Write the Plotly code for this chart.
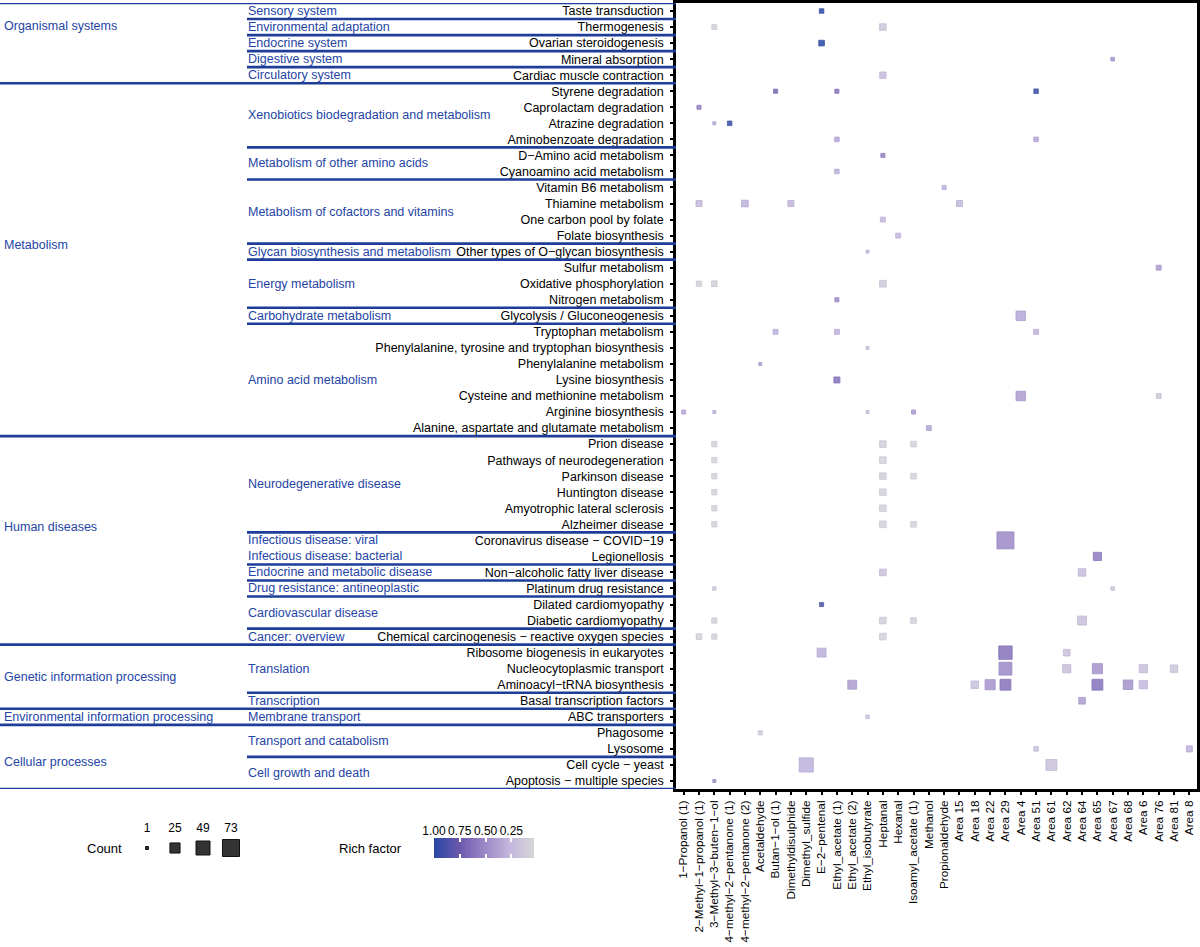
import numpy as np
import plotly.graph_objects as go

# ---------------- data ----------------
compounds = ["1−Propanol (1)", "2−Methyl−1−propanol (1)", "3−Methyl−3−buten−1−ol",
             "4−methyl−2−pentanone (1)", "4−methyl−2−pentanone (2)", "Acetaldehyde",
             "Butan−1−ol (1)", "Dimethyldisulphide", "Dimethyl_sulfide", "E−2−pentenal",
             "Ethyl_acetate (1)", "Ethyl_acetate (2)", "Ethyl_isobutyrate", "Heptanal",
             "Hexanal", "Isoamyl_acetate (1)", "Methanol", "Propionaldehyde",
             "Area 15", "Area 18", "Area 22", "Area 29", "Area 4", "Area 51", "Area 61",
             "Area 62", "Area 64", "Area 65", "Area 67", "Area 68", "Area 6", "Area 76",
             "Area 81", "Area 8"]

subclass_names = ["Sensory system", "Environmental adaptation", "Endocrine system",
                  "Digestive system", "Circulatory system",
                  "Xenobiotics biodegradation and metabolism", "Metabolism of other amino acids",
                  "Metabolism of cofactors and vitamins", "Glycan biosynthesis and metabolism",
                  "Energy metabolism", "Carbohydrate metabolism", "Amino acid metabolism",
                  "Neurodegenerative disease", "Infectious disease: viral",
                  "Infectious disease: bacterial", "Endocrine and metabolic disease",
                  "Drug resistance: antineoplastic", "Cardiovascular disease", "Cancer: overview",
                  "Translation", "Transcription", "Membrane transport",
                  "Transport and catabolism", "Cell growth and death"]

subclass_class = (["Organismal systems"] * 5 + ["Metabolism"] * 7 + ["Human diseases"] * 7 +
                  ["Genetic information processing"] * 2 +
                  ["Environmental information processing"] + ["Cellular processes"] * 2)

subclass_pathways = [
    ["Taste transduction"],
    ["Thermogenesis"],
    ["Ovarian steroidogenesis"],
    ["Mineral absorption"],
    ["Cardiac muscle contraction"],
    ["Styrene degradation", "Caprolactam degradation", "Atrazine degradation",
     "Aminobenzoate degradation"],
    ["D−Amino acid metabolism", "Cyanoamino acid metabolism"],
    ["Vitamin B6 metabolism", "Thiamine metabolism", "One carbon pool by folate",
     "Folate biosynthesis"],
    ["Other types of O−glycan biosynthesis"],
    ["Sulfur metabolism", "Oxidative phosphorylation", "Nitrogen metabolism"],
    ["Glycolysis / Gluconeogenesis"],
    ["Tryptophan metabolism", "Phenylalanine, tyrosine and tryptophan biosynthesis",
     "Phenylalanine metabolism", "Lysine biosynthesis", "Cysteine and methionine metabolism",
     "Arginine biosynthesis", "Alanine, aspartate and glutamate metabolism"],
    ["Prion disease", "Pathways of neurodegeneration", "Parkinson disease",
     "Huntington disease", "Amyotrophic lateral sclerosis", "Alzheimer disease"],
    ["Coronavirus disease − COVID−19"],
    ["Legionellosis"],
    ["Non−alcoholic fatty liver disease"],
    ["Platinum drug resistance"],
    ["Dilated cardiomyopathy", "Diabetic cardiomyopathy"],
    ["Chemical carcinogenesis − reactive oxygen species"],
    ["Ribosome biogenesis in eukaryotes", "Nucleocytoplasmic transport",
     "Aminoacyl−tRNA biosynthesis"],
    ["Basal transcription factors"],
    ["ABC transporters"],
    ["Phagosome", "Lysosome"],
    ["Cell cycle − yeast", "Apoptosis − multiple species"],
]

C = compounds
# enrichment points: pathway, compound, gene count, rich factor
pt_pathway = (["Taste transduction"] + ["Thermogenesis"] * 2 + ["Ovarian steroidogenesis"] +
              ["Mineral absorption"] + ["Cardiac muscle contraction"] +
              ["Styrene degradation"] * 3 + ["Caprolactam degradation"] +
              ["Atrazine degradation"] * 2 + ["Aminobenzoate degradation"] * 2 +
              ["D−Amino acid metabolism"] + ["Cyanoamino acid metabolism"] +
              ["Vitamin B6 metabolism"] + ["Thiamine metabolism"] * 4 +
              ["One carbon pool by folate"] + ["Folate biosynthesis"] +
              ["Other types of O−glycan biosynthesis"] + ["Sulfur metabolism"] +
              ["Oxidative phosphorylation"] * 3 + ["Nitrogen metabolism"] +
              ["Glycolysis / Gluconeogenesis"] + ["Tryptophan metabolism"] * 3 +
              ["Phenylalanine, tyrosine and tryptophan biosynthesis"] +
              ["Phenylalanine metabolism"] + ["Lysine biosynthesis"] +
              ["Cysteine and methionine metabolism"] * 2 + ["Arginine biosynthesis"] * 4 +
              ["Alanine, aspartate and glutamate metabolism"] +
              ["Prion disease"] * 3 + ["Pathways of neurodegeneration"] * 2 +
              ["Parkinson disease"] * 3 + ["Huntington disease"] * 2 +
              ["Amyotrophic lateral sclerosis"] * 2 + ["Alzheimer disease"] * 3 +
              ["Coronavirus disease − COVID−19"] + ["Legionellosis"] +
              ["Non−alcoholic fatty liver disease"] * 2 + ["Platinum drug resistance"] * 2 +
              ["Dilated cardiomyopathy"] + ["Diabetic cardiomyopathy"] * 4 +
              ["Chemical carcinogenesis − reactive oxygen species"] * 3 +
              ["Ribosome biogenesis in eukaryotes"] * 3 + ["Nucleocytoplasmic transport"] * 5 +
              ["Aminoacyl−tRNA biosynthesis"] * 7 + ["Basal transcription factors"] +
              ["ABC transporters"] + ["Phagosome"] + ["Lysosome"] * 2 +
              ["Cell cycle − yeast"] * 2 + ["Apoptosis − multiple species"])

pt_compound = ([C[9]] + [C[2], C[13]] + [C[9]] + [C[28]] + [C[13]] +
               [C[6], C[10], C[23]] + [C[1]] + [C[2], C[3]] + [C[10], C[23]] +
               [C[13]] + [C[10]] + [C[17]] + [C[1], C[4], C[7], C[18]] +
               [C[13]] + [C[14]] + [C[12]] + [C[31]] + [C[1], C[2], C[13]] + [C[10]] +
               [C[22]] + [C[6], C[10], C[23]] + [C[12]] + [C[5]] + [C[10]] +
               [C[22], C[31]] + [C[0], C[2], C[12], C[15]] + [C[16]] +
               [C[2], C[13], C[15]] + [C[2], C[13]] + [C[2], C[13], C[15]] +
               [C[2], C[13]] + [C[2], C[13]] + [C[2], C[13], C[15]] +
               [C[21]] + [C[27]] + [C[13], C[26]] + [C[2], C[28]] + [C[9]] +
               [C[2], C[13], C[15], C[26]] + [C[1], C[2], C[13]] +
               [C[9], C[21], C[25]] + [C[21], C[25], C[27], C[30], C[32]] +
               [C[11], C[19], C[20], C[21], C[27], C[29], C[30]] + [C[26]] +
               [C[12]] + [C[5]] + [C[23], C[33]] + [C[8], C[24]] + [C[2]])

pt_count = ([4] + [5, 10] + [7] + [2] + [9] +
            [3, 3, 4] + [3] + [1, 4] + [4, 4] +
            [3] + [4] + [3] + [8, 10, 8, 8] +
            [5] + [5] + [1] + [5] + [6, 7, 10] + [3] +
            [22] + [5, 5, 5] + [1] + [1] + [8] +
            [22, 5] + [3, 1, 1, 3] + [5] +
            [6, 10, 7] + [6, 10] + [6, 10, 7] +
            [6, 10] + [6, 10] + [6, 10, 7] +
            [73] + [16] + [10, 13] + [2, 2] + [3] +
            [6, 10, 7, 19] + [7, 6, 10] +
            [19, 45, 10] + [41, 16, 25, 16, 13] +
            [19, 13, 25, 29, 29, 22, 16] + [10] +
            [2] + [3] + [4, 8] + [50, 29] + [1])

pt_rich = ([1.00] + [0.08, 0.14] + [1.00] + [0.45] + [0.22] +
           [0.68, 0.62, 0.95] + [0.55] + [0.35, 0.95] + [0.35, 0.35] +
           [0.55] + [0.30] + [0.30] + [0.25, 0.30, 0.28, 0.25] +
           [0.25] + [0.25] + [0.25] + [0.40] + [0.08, 0.08, 0.12] + [0.50] +
           [0.35] + [0.30, 0.30, 0.30] + [0.20] + [0.40] + [0.62] +
           [0.40, 0.12] + [0.35, 0.30, 0.20, 0.42] + [0.35] +
           [0.06, 0.08, 0.06] + [0.05, 0.07] + [0.06, 0.08, 0.06] +
           [0.05, 0.07] + [0.05, 0.07] + [0.05, 0.07, 0.05] +
           [0.50] + [0.58] + [0.18, 0.22] + [0.12, 0.15] + [0.88] +
           [0.06, 0.10, 0.07, 0.20] + [0.06, 0.06, 0.08] +
           [0.30, 0.62, 0.20] + [0.50, 0.20, 0.45, 0.20, 0.15] +
           [0.40, 0.20, 0.45, 0.62, 0.62, 0.45, 0.25] + [0.40] +
           [0.15] + [0.12] + [0.20, 0.30] + [0.30, 0.20] + [0.50])

legend_counts = [1, 25, 49, 73]
rich_ticks = [1.00, 0.75, 0.50, 0.25]

# ---------------- styling ----------------
W, H = 1200, 947
FONT = "Liberation Sans, Arial, sans-serif"
LINE_BLUE = "#1d3d98"
LABEL_BLUE = "#2444a6"
COLORSCALE = [[0.0, "#d6d6da"], [0.25, "#c2b6dc"], [0.5, "#9a86c6"],
              [0.75, "#6a58ac"], [1.0, "#2747a3"]]
EDGESCALE = [[0.0, "#c6c6cc"], [0.25, "#ad9fd0"], [0.5, "#8470b8"],
             [0.75, "#56449c"], [1.0, "#1d3a93"]]
CMIN, CMAX = 0.03, 1.0

PLOT_L, PLOT_R, PLOT_T, PLOT_B = 676, 1197, 3, 789
SUB_X = 247
CLASS_LABEL_ROW = {"Organismal systems": 0.91, "Metabolism": 14.57, "Human diseases": 32.15,
                   "Genetic information processing": 41.52,
                   "Environmental information processing": 44.0,
                   "Cellular processes": 46.83}


def marker_size(counts):
    return np.sqrt(5 + 3.9 * np.asarray(counts, dtype=float))


pathways = [p for group in subclass_pathways for p in group]
n_rows = len(pathways)

fig = go.Figure()

fig.add_trace(go.Scatter(
    x=pt_compound, y=pt_pathway, mode="markers",
    marker=dict(symbol="square", size=marker_size(pt_count), color=pt_rich,
                colorscale=COLORSCALE, cmin=CMIN, cmax=CMAX, opacity=0.85,
                line=dict(width=0.8, color=pt_rich, colorscale=EDGESCALE,
                          cmin=CMIN, cmax=CMAX),
                showscale=False),
    showlegend=False, hoverinfo="x+y"))

# ---- size legend (pixel-like axes) ----
leg_x = [147, 175, 203, 231]
fig.add_trace(go.Scatter(
    x=leg_x, y=[848] * 4, mode="markers", xaxis="x2", yaxis="y2",
    marker=dict(symbol="square", size=marker_size(legend_counts), color="#333333",
                opacity=1, line=dict(color="#111111", width=1)),
    showlegend=False, hoverinfo="skip"))
fig.add_trace(go.Scatter(
    x=leg_x, y=[829] * 4, mode="text", xaxis="x2", yaxis="y2",
    text=[str(c) for c in legend_counts], textfont=dict(family=FONT, size=12, color="black"),
    showlegend=False, hoverinfo="skip"))

# ---- colour bar (reversed, as a heatmap) ----
grad = np.linspace(CMIN, CMAX, 120)
fig.add_trace(go.Heatmap(
    x=grad, y=[0], z=[grad], xaxis="x3", yaxis="y3", colorscale=COLORSCALE,
    zmin=CMIN, zmax=CMAX, showscale=False, hoverinfo="skip"))

# ---- group separator lines and labels ----
shapes = []
annotations = []
row = 0
for i, (name, cls, paths) in enumerate(zip(subclass_names, subclass_class, subclass_pathways)):
    start = row
    row += len(paths)
    annotations.append(dict(x=(SUB_X - 1) / W, xref="paper", xanchor="left",
                            y=(start + row - 1) / 2, yref="y", yanchor="middle",
                            text=name, showarrow=False,
                            font=dict(family=FONT, size=12.5, color=LABEL_BLUE)))
    last = i == len(subclass_names) - 1
    if last or subclass_class[i + 1] != cls:
        x0 = 0
    elif subclass_names[i + 1].split(":")[0] != name.split(":")[0]:
        x0 = SUB_X / W
    else:
        continue
    shapes.append(dict(type="line", xref="paper", yref="y", x0=x0, x1=PLOT_L / W,
                       y0=row - 0.5, y1=row - 0.5, line=dict(color=LINE_BLUE, width=2.6)))
shapes.append(dict(type="line", xref="paper", yref="y", x0=0, x1=PLOT_L / W,
                   y0=-0.5, y1=-0.5, line=dict(color=LINE_BLUE, width=2.6)))

for cls, r in CLASS_LABEL_ROW.items():
    annotations.append(dict(x=2 / W, xref="paper", xanchor="left", y=r, yref="y",
                            yanchor="middle", text=cls, showarrow=False,
                            font=dict(family=FONT, size=12.5, color=LABEL_BLUE)))

annotations.append(dict(x=104, y=848, xref="x2", yref="y2", text="Count", showarrow=False,
                        font=dict(family=FONT, size=13, color="black")))
annotations.append(dict(x=370, y=848, xref="x2", yref="y2", text="Rich factor",
                        showarrow=False, font=dict(family=FONT, size=13, color="black")))

LEG_TOP = 795
fig.update_layout(
    width=W, height=H, autosize=False,
    margin=dict(l=0, r=0, t=0, b=0, pad=0, autoexpand=False),
    paper_bgcolor="white", plot_bgcolor="white",
    font=dict(family=FONT, size=13, color="black"),
    xaxis=dict(domain=[PLOT_L / W, PLOT_R / W], type="category",
               categoryorder="array", categoryarray=compounds,
               tickmode="array", tickvals=compounds, ticktext=compounds,
               range=[-0.5, len(compounds) - 0.5], tickangle=-90,
               ticks="outside", ticklen=3, tickcolor="black", tickwidth=1.5,
               ticklabelstandoff=1,
               tickfont=dict(family=FONT, size=11.8, color="black"),
               showline=True, mirror=True, linecolor="black", linewidth=2.5,
               showgrid=False, zeroline=False, automargin=False, anchor="y"),
    yaxis=dict(domain=[1 - PLOT_B / H, 1 - PLOT_T / H], type="category",
               categoryorder="array", categoryarray=pathways,
               tickmode="array", tickvals=pathways, ticktext=pathways,
               range=[n_rows - 0.5, -0.5],
               ticks="outside", ticklen=3, tickcolor="black", tickwidth=1.5,
               ticklabelstandoff=4,
               tickfont=dict(family=FONT, size=12.5, color="black"),
               showline=True, mirror=True, linecolor="black", linewidth=2.5,
               showgrid=False, zeroline=False, automargin=False, anchor="x"),
    xaxis2=dict(domain=[0, 660 / W], range=[0, 660], visible=False, anchor="y2",
                fixedrange=True, automargin=False),
    yaxis2=dict(domain=[0, 1 - LEG_TOP / H], range=[H, LEG_TOP], visible=False,
                anchor="x2", fixedrange=True, automargin=False),
    xaxis3=dict(domain=[434 / W, 534 / W], range=[CMAX, CMIN], anchor="y3",
                side="top", tickvals=rich_ticks, ticktext=[f"{v:.2f}" for v in rich_ticks],
                tickangle=0, ticks="inside", ticklen=4, tickwidth=1.5, tickcolor="white",
                mirror="ticks", showline=False, showgrid=False, zeroline=False,
                automargin=False, tickfont=dict(family=FONT, size=12, color="black")),
    yaxis3=dict(domain=[1 - 858 / H, 1 - 838 / H], range=[-0.5, 0.5], visible=False,
                anchor="x3", automargin=False),
    shapes=shapes, annotations=annotations, showlegend=False,
)

fig.write_html("out.html",
               config={"displayModeBar": False, "responsive": False},
               post_script="document.documentElement.style.overflow='hidden';"
                           "document.body.style.margin='0px';"
                           "document.body.style.overflow='hidden';")
